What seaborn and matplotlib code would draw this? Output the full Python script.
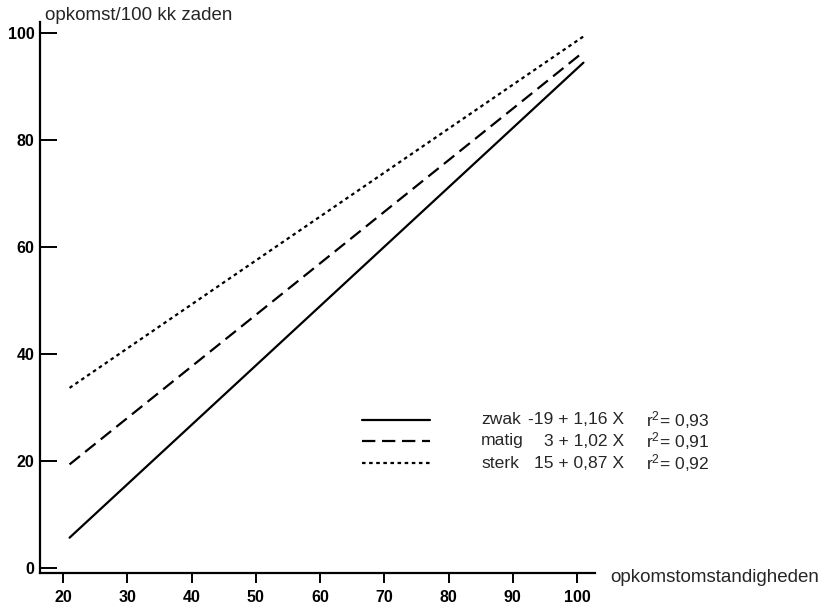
import pandas as pd
import numpy as np
import matplotlib
matplotlib.use("Agg")
import matplotlib.pyplot as plt
import seaborn as sns

#----------------------------------
# data
#----------------------------------
x_vals = [21, 101]
zwak = [5.6, 94.4]
matig = [19.3, 96.4]
sterk = [33.6, 99.3]

klassen = ['zwak', 'matig', 'sterk']
vergelijking = ['-19 + 1,16 X', '3 + 1,02 X', '15 + 0,87 X']
r2 = ['0,93', '0,91', '0,92']

x_ticks = [20, 30, 40, 50, 60, 70, 80, 90, 100]
y_ticks = [0, 20, 40, 60, 80, 100]

df = pd.DataFrame({
    'x': x_vals * 3,
    'y': zwak + matig + sterk,
    'klasse': np.repeat(klassen, len(x_vals)),
})

#----------------------------------
# plot
#----------------------------------
sns.set_theme(style="ticks")
plt.rcParams['font.family'] = ['Liberation Sans', 'DejaVu Sans']
plt.rcParams['mathtext.fontset'] = 'custom'
plt.rcParams['mathtext.rm'] = 'Liberation Sans'
plt.rcParams['mathtext.it'] = 'Liberation Sans'

W, H = 824, 604
fig = plt.figure(figsize=(W / 100, H / 100), dpi=100)
ax = fig.add_axes([40 / W, 1 - 573 / H, (595 - 40) / W, (573 - 22) / H])

sns.lineplot(data=df, x='x', y='y', hue='klasse', style='klasse',
             palette={k: 'black' for k in klassen},
             dashes={'zwak': '', 'matig': (6, 3), 'sterk': (1.6, 1.6)},
             linewidth=1.6, ax=ax, legend=False)

ax.set_xlim(16.4, 102.8)
ax.set_ylim(-1, 102)
ax.set_xticks(x_ticks)
ax.set_yticks(y_ticks)
ax.set_xlabel('')
ax.set_ylabel('')
sns.despine(ax=ax)
for s in ['left', 'bottom']:
    ax.spines[s].set_linewidth(1.6)
    ax.spines[s].set_color('black')

ax.tick_params(axis='y', direction='in', length=12, width=1.4, pad=4,
               labelsize=11.5, colors='black')
ax.tick_params(axis='x', direction='out', length=7, width=1.4, pad=5,
               labelsize=11.5, colors='black')
for lab in ax.get_xticklabels() + ax.get_yticklabels():
    lab.set_fontweight('bold')

fig.text(45 / W, 1 - 15 / H, 'opkomst/100 kk zaden', fontsize=13.5,
         va='center', ha='left')
fig.text(610 / W, 1 - 578 / H, 'opkomstomstandigheden', fontsize=13.5,
         va='center', ha='left')

# legend: line samples + text columns
stijl = {'zwak': '-', 'matig': (0, (6, 3)), 'sterk': (0, (1.6, 1.6))}
rows_y = [420, 441, 463]
for k, eq, r, yy in zip(klassen, vergelijking, r2, rows_y):
    fy = 1 - yy / H
    fig.add_artist(plt.Line2D([362 / W, 430 / W], [fy, fy], color='black',
                              linewidth=1.6, linestyle=stijl[k]))
    fig.text(481 / W, fy, k, fontsize=12.6, va='center', ha='left')
    fig.text(624 / W, fy, eq, fontsize=12.6, va='center', ha='right')
    fig.text(646 / W, fy, 'r$^2$= ' + r, fontsize=12.6, va='center', ha='left')

fig.savefig('out.png', dpi=100, facecolor='white')
